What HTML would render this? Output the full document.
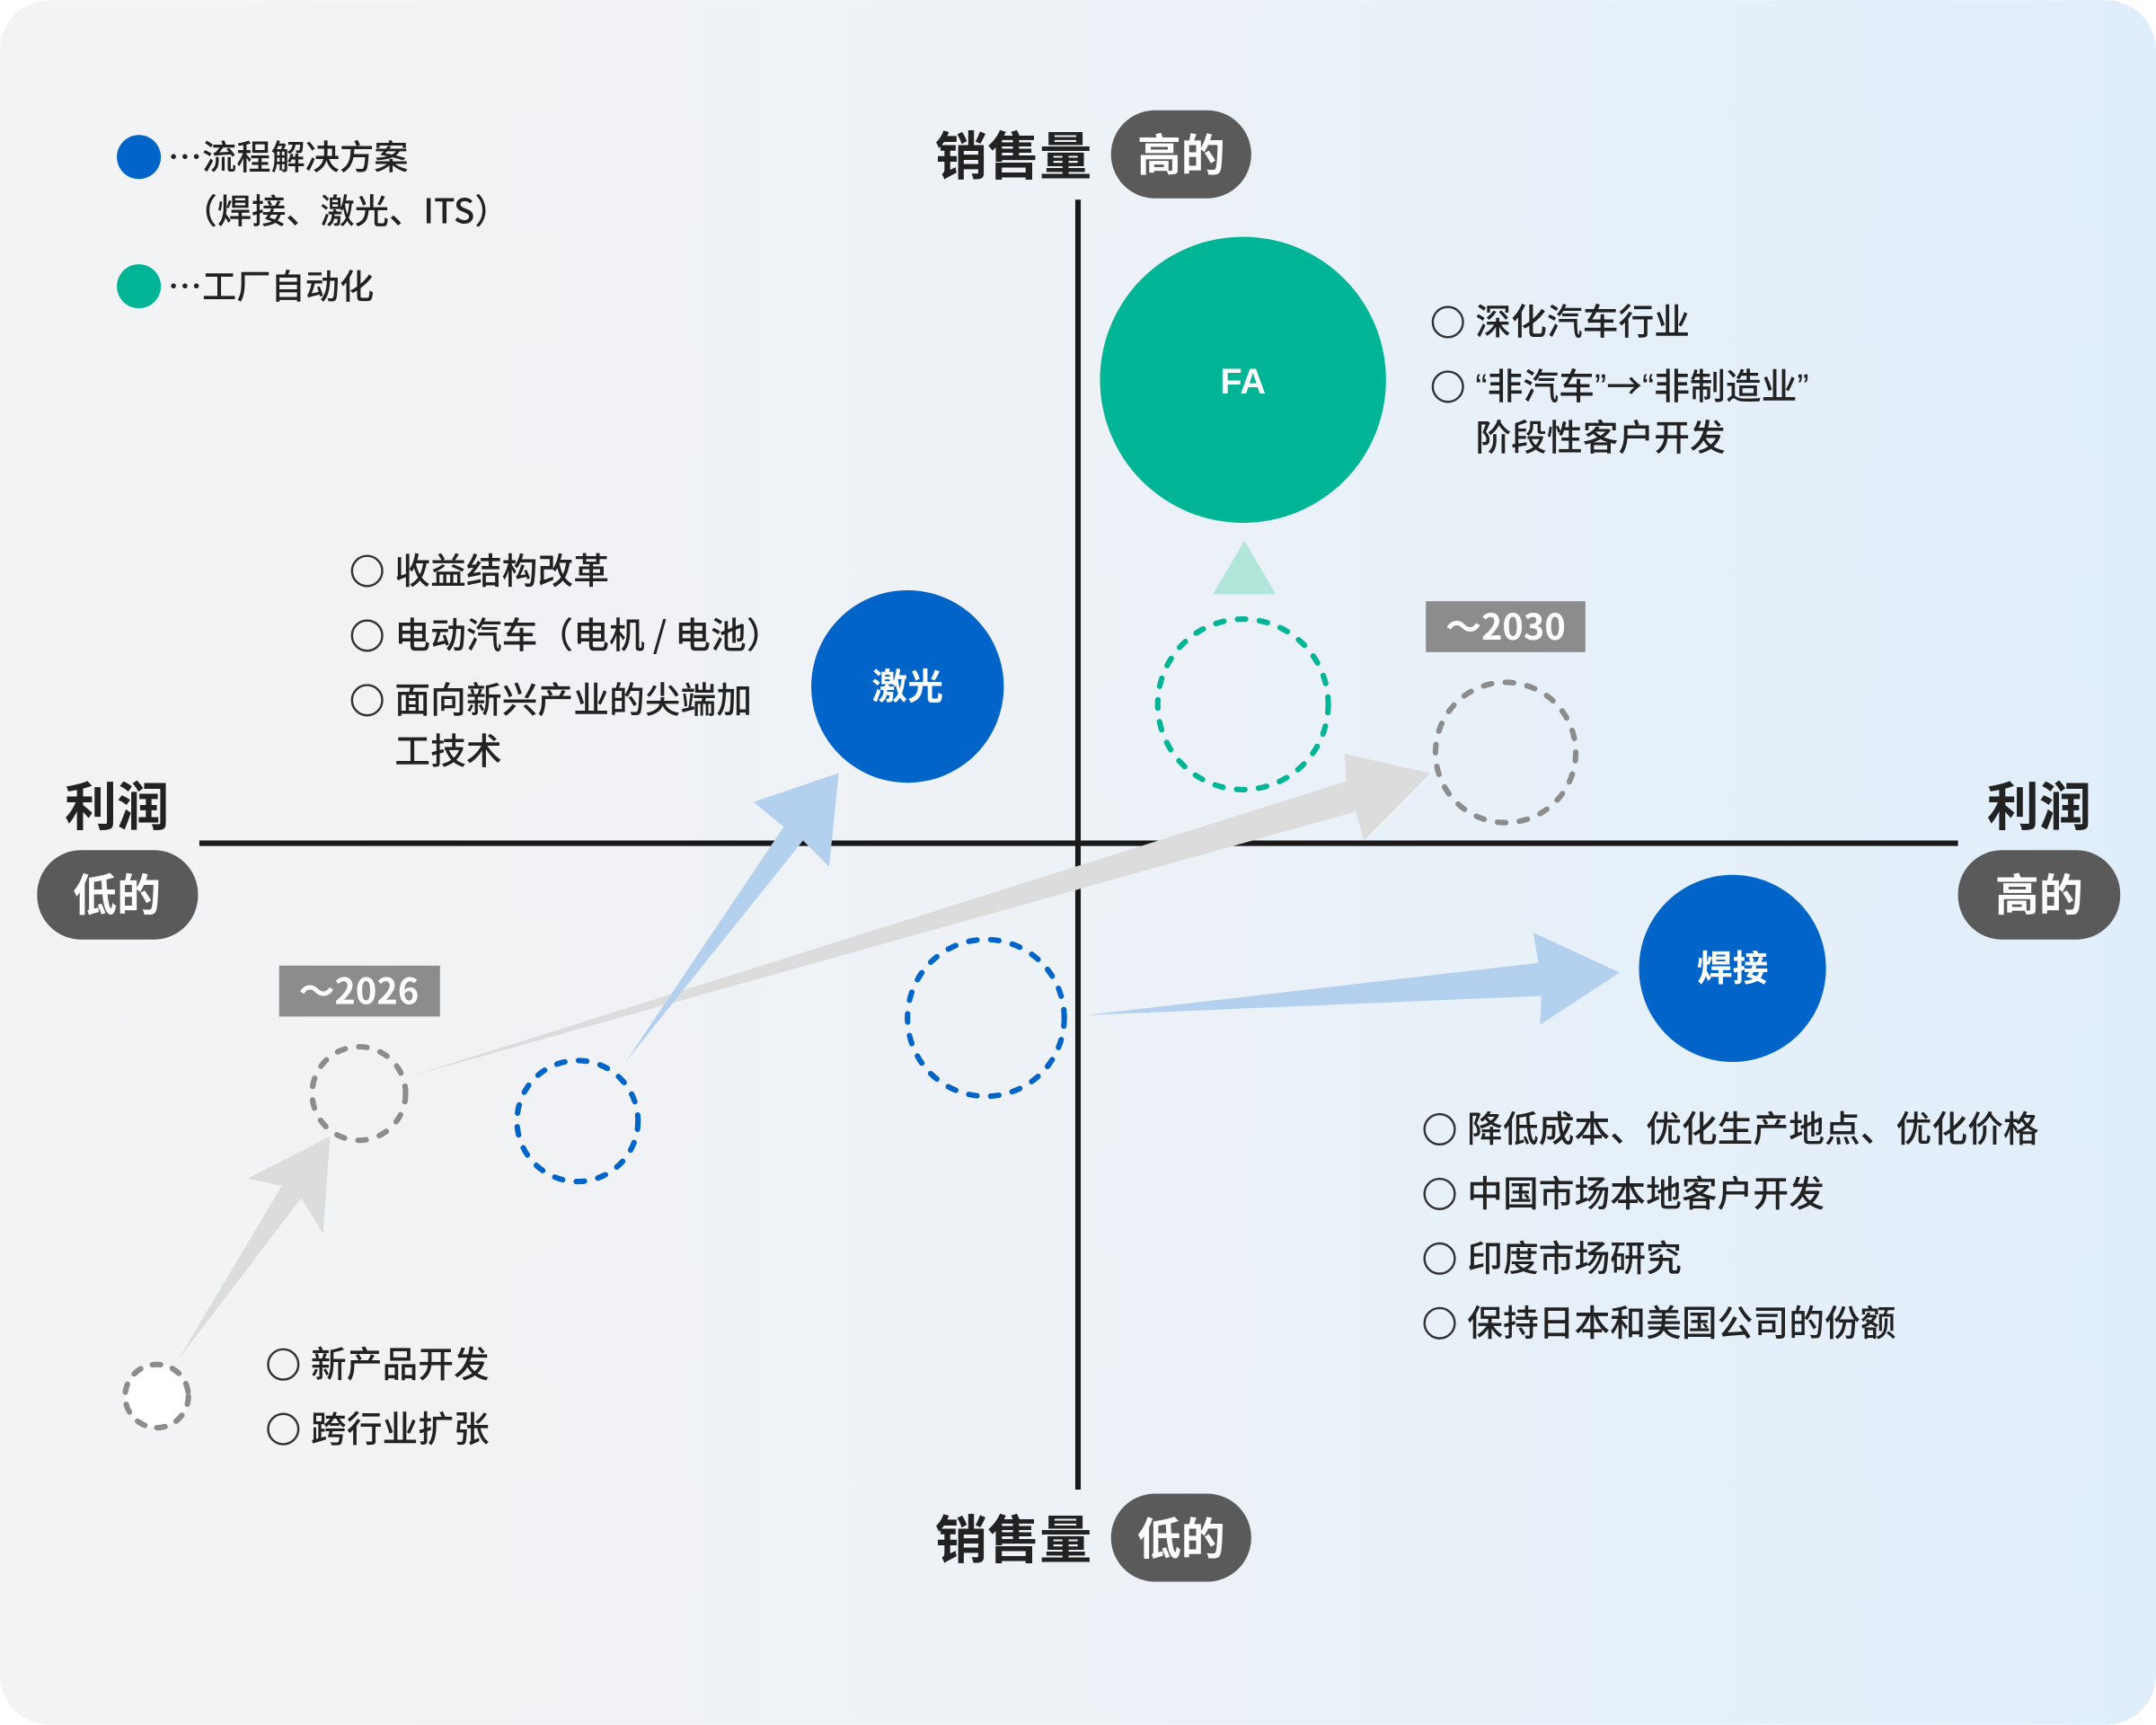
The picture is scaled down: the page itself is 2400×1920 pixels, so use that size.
<!DOCTYPE html>
<html><head><meta charset="utf-8"><style>
html,body{margin:0;padding:0;background:#fff;}
svg{display:block;}
text{font-family:"Noto Sans CJK SC","Liberation Sans",sans-serif;}
.l{font-family:"Liberation Sans","Noto Sans CJK SC",sans-serif;}
</style></head><body>
<svg width="2400" height="1920" viewBox="0 0 1568 1254" xmlns="http://www.w3.org/2000/svg">
<defs>
<linearGradient id="bg" x1="0" y1="0" x2="1" y2="0">
<stop offset="0" stop-color="#f3f3f3"/><stop offset="0.45" stop-color="#eef2f6"/><stop offset="1" stop-color="#e0eefb"/>
</linearGradient>
</defs>
<rect x="0" y="0" width="1568" height="1254" rx="36" fill="url(#bg)"/>

<circle cx="101" cy="114" r="16" fill="#0064c8"/>
<text x="122" y="123" font-size="25" font-weight="500" fill="#222">…流程解决方案</text>
<text x="133" y="162" font-size="25" font-weight="500" fill="#222">（焊接、激光、ITS）</text>
<circle cx="101" cy="208" r="16" fill="#00b496"/>
<text x="122" y="217" font-size="25" font-weight="500" fill="#222">…工厂自动化</text>

<line x1="784" y1="145" x2="784" y2="1083" stroke="#1a1a1a" stroke-width="4"/>
<line x1="145" y1="613" x2="1424" y2="613" stroke="#1a1a1a" stroke-width="4"/>

<text x="680" y="127" font-size="38" font-weight="bold" fill="#222">销售量</text>
<rect x="808" y="80" width="102" height="64" rx="32" fill="#5a5a5a"/>
<text x="859" y="124" font-size="32" font-weight="bold" fill="#fff" text-anchor="middle">高的</text>
<text x="680" y="1133" font-size="38" font-weight="bold" fill="#222">销售量</text>
<rect x="808" y="1086" width="102" height="64" rx="32" fill="#5a5a5a"/>
<text x="859" y="1130" font-size="32" font-weight="bold" fill="#fff" text-anchor="middle">低的</text>
<text x="85" y="600" font-size="38" font-weight="bold" fill="#222" text-anchor="middle">利润</text>
<rect x="27" y="618" width="117" height="65" rx="32" fill="#5a5a5a"/>
<text x="85" y="662" font-size="32" font-weight="bold" fill="#fff" text-anchor="middle">低的</text>
<text x="1483" y="600" font-size="38" font-weight="bold" fill="#222" text-anchor="middle">利润</text>
<rect x="1424" y="618" width="118" height="65" rx="32" fill="#5a5a5a"/>
<text x="1483" y="662" font-size="32" font-weight="bold" fill="#fff" text-anchor="middle">高的</text>

<circle cx="904" cy="512" r="62" fill="none" stroke="#00b496" stroke-width="4" stroke-dasharray="6 10" stroke-linecap="round"/>
<circle cx="1095" cy="547" r="51" fill="none" stroke="#8c8c8c" stroke-width="4" stroke-dasharray="6 10" stroke-linecap="round"/>
<circle cx="717" cy="740" r="57" fill="none" stroke="#0064c8" stroke-width="4" stroke-dasharray="6 10" stroke-linecap="round"/>
<circle cx="420" cy="815" r="44" fill="none" stroke="#0064c8" stroke-width="4" stroke-dasharray="6 10" stroke-linecap="round"/>
<circle cx="261" cy="795" r="34" fill="none" stroke="#8c8c8c" stroke-width="4" stroke-dasharray="6 10" stroke-linecap="round"/>
<circle cx="114" cy="1015" r="23" fill="#fff" stroke="#8c8c8c" stroke-width="4" stroke-dasharray="6 9" stroke-linecap="round"/>

<polygon points="300,782 979,568 978,548 1040,562 992,611 986,590" fill="#dcdcdc"/>
<polygon points="455,772 570,601 548,583 610,562 603,630 584,611" fill="#b3d0ee"/>
<polygon points="130,988 205,862 180,857 240,826 235,897 219,871" fill="#dcdcdc"/>
<polygon points="790,738 1119,700 1115,678 1178,707 1120,745 1121,724" fill="#b3d0ee"/>
<polygon points="882,432 928,432 905,393" fill="#b3e6da"/>

<circle cx="904" cy="276" r="104" fill="#00b496"/>
<text x="904" y="286" font-size="26" font-weight="bold" fill="#fff" text-anchor="middle" class="l">FA</text>
<circle cx="660" cy="499" r="70" fill="#0064c8"/>
<text x="660" y="508" font-size="26" font-weight="bold" fill="#fff" text-anchor="middle">激光</text>
<circle cx="1260" cy="704" r="68" fill="#0064c8"/>
<text x="1260" y="713" font-size="26" font-weight="bold" fill="#fff" text-anchor="middle">焊接</text>

<rect x="1037" y="437" width="116" height="37" fill="#8c8c8c"/>
<text x="1095" y="465" font-size="26" font-weight="bold" fill="#fff" text-anchor="middle">～2030</text>
<rect x="203" y="702" width="117" height="37" fill="#8c8c8c"/>
<text x="261" y="730" font-size="26" font-weight="bold" fill="#fff" text-anchor="middle">～2026</text>

<g fill="none" stroke="#333" stroke-width="1.6">
<circle cx="267" cy="415" r="11"/><circle cx="267" cy="462" r="11"/><circle cx="267" cy="509" r="11"/>
<circle cx="1053" cy="234" r="11"/><circle cx="1053" cy="281" r="11"/>
<circle cx="1047" cy="821" r="11"/><circle cx="1047" cy="868" r="11"/><circle cx="1047" cy="915" r="11"/><circle cx="1047" cy="962" r="11"/>
<circle cx="206" cy="992" r="11"/><circle cx="206" cy="1039" r="11"/>
</g>
<g font-size="26" font-weight="500" fill="#222">
<text x="287" y="424">收益结构改革</text>
<text x="287" y="471">电动汽车（电机 / 电池）</text>
<text x="287" y="518">面向新兴产业的尖端加</text>
<text x="287" y="555">工技术</text>
<text x="1073" y="243">深化汽车行业</text>
<text x="1073" y="290"><tspan class="l">“</tspan>非汽车<tspan class="l">”</tspan>→<tspan class="l">“</tspan>非制造业<tspan class="l">”</tspan></text>
<text x="1073" y="327">阶段性客户开发</text>
<text x="1067" y="830">降低成本、优化生产地点、优化价格</text>
<text x="1067" y="877">中国市场本地客户开发</text>
<text x="1067" y="924">印度市场研究</text>
<text x="1067" y="971">保持日本和美国公司的份额</text>
<text x="226" y="1001">新产品开发</text>
<text x="226" y="1048">跨行业扩张</text>
</g>
</svg>
</body></html>
